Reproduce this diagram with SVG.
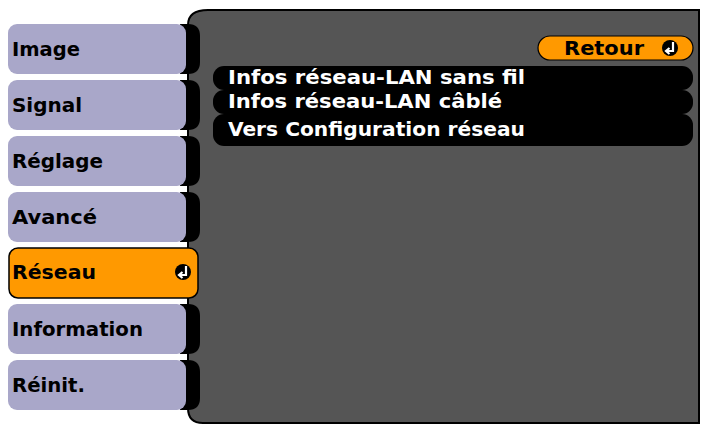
<svg xmlns="http://www.w3.org/2000/svg" width="717" height="426" viewBox="0 0 717 426">
<style>
.tab{fill:#a9a7c9}
.ext{fill:#000}
.t{font-family:"DejaVu Sans Condensed","DejaVu Sans",sans-serif;font-size:20px;font-weight:bold;fill:#000}
.w{font-family:"DejaVu Sans Condensed","DejaVu Sans",sans-serif;font-size:19px;font-weight:bold;fill:#fff}
.row{fill:#000}
</style>
<rect width="717" height="426" fill="#fff"/>
<g id="panel">
<path d="M208 10 H699 V423 H203 Q188 423 188 408 V25 Q188 10 208 10 Z" fill="#555" stroke="#000" stroke-width="2"/>
</g>
<g id="tabs">
<g id="tab-image"><path class="ext" d="M180 24 H188 Q200 24 200 36 V62 Q200 74 188 74 H180Z"/><rect class="tab" x="8" y="24" width="178" height="50" rx="9"/><text class="t" x="12" y="56" textLength="68" lengthAdjust="spacingAndGlyphs">Image</text></g>
<g id="tab-signal"><path class="ext" d="M180 80 H188 Q200 80 200 92 V118 Q200 130 188 130 H180Z"/><rect class="tab" x="8" y="80" width="178" height="50" rx="9"/><text class="t" x="12" y="112" textLength="70" lengthAdjust="spacingAndGlyphs">Signal</text></g>
<g id="tab-reglage"><path class="ext" d="M180 136 H188 Q200 136 200 148 V174 Q200 186 188 186 H180Z"/><rect class="tab" x="8" y="136" width="178" height="50" rx="9"/><text class="t" x="12" y="168" textLength="91" lengthAdjust="spacingAndGlyphs">Réglage</text></g>
<g id="tab-avance"><path class="ext" d="M180 192 H188 Q200 192 200 204 V230 Q200 242 188 242 H180Z"/><rect class="tab" x="8" y="192" width="178" height="50" rx="9"/><text class="t" x="12" y="224" textLength="85" lengthAdjust="spacingAndGlyphs">Avancé</text></g>
<g id="tab-reseau"><rect x="9" y="248" width="189" height="50" rx="9" fill="#ff9900" stroke="#000" stroke-width="1.5"/><text class="t" x="12" y="279" textLength="84" lengthAdjust="spacingAndGlyphs">Réseau</text><circle cx="183" cy="272" r="8" fill="#000"/><path d="M186 266 V275 H180 M182.5 272 L179 275 L182.5 278" stroke="#fff" stroke-width="2.2" fill="none"/></g>
<g id="tab-information"><path class="ext" d="M180 304 H188 Q200 304 200 316 V342 Q200 354 188 354 H180Z"/><rect class="tab" x="8" y="304" width="178" height="50" rx="9"/><text class="t" x="12" y="336" textLength="131" lengthAdjust="spacingAndGlyphs">Information</text></g>
<g id="tab-reinit"><path class="ext" d="M180 360 H188 Q200 360 200 372 V398 Q200 410 188 410 H180Z"/><rect class="tab" x="8" y="360" width="178" height="50" rx="9"/><text class="t" x="12" y="392" textLength="73" lengthAdjust="spacingAndGlyphs">Réinit.</text></g>
</g>
<g id="retour"><rect x="538" y="36" width="155" height="24" rx="12" fill="#ff9900" stroke="#000" stroke-width="1.2"/><text class="t" x="564" y="55" textLength="80" lengthAdjust="spacingAndGlyphs">Retour</text><circle cx="670" cy="48" r="8" fill="#000"/><path d="M673 42 V51 H667 M669.5 48 L666 51 L669.5 54" stroke="#fff" stroke-width="2.2" fill="none"/></g>
<g id="items">
<rect class="row" x="213" y="66" width="480" height="24" rx="11"/>
<rect class="row" x="213" y="90" width="480" height="24" rx="11"/>
<rect class="row" x="213" y="114" width="480" height="32" rx="11"/>
<text class="w" x="228" y="84" textLength="297" lengthAdjust="spacingAndGlyphs">Infos réseau-LAN sans fil</text>
<text class="w" x="228" y="108" textLength="274" lengthAdjust="spacingAndGlyphs">Infos réseau-LAN câblé</text>
<text class="w" x="228" y="136" textLength="297" lengthAdjust="spacingAndGlyphs">Vers Configuration réseau</text>
</g>
</svg>
